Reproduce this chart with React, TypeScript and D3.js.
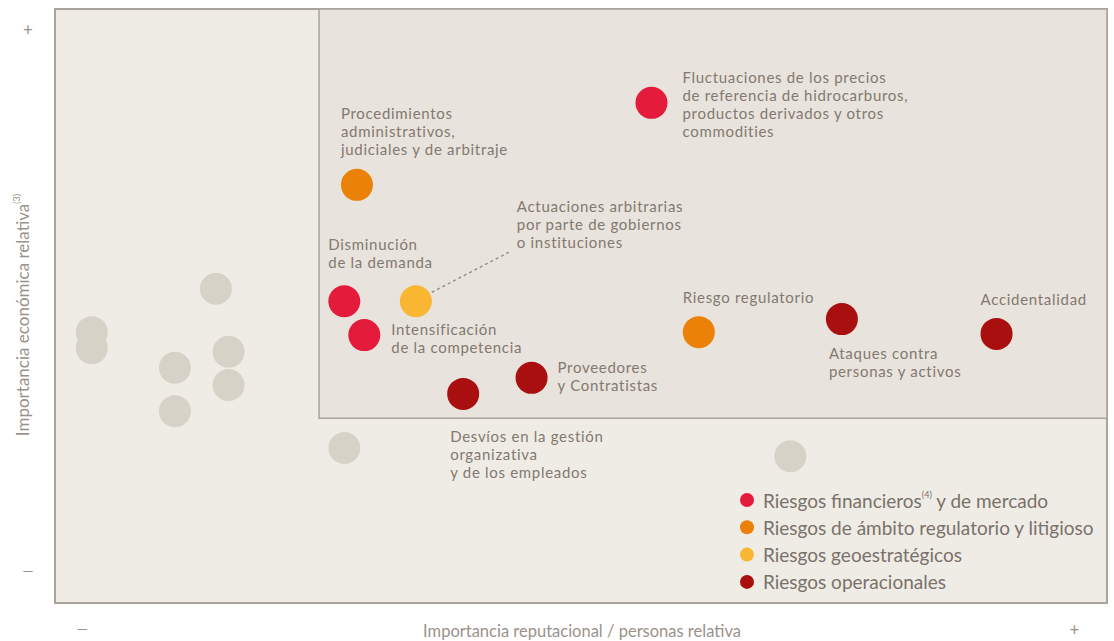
import { scaleLinear, scaleOrdinal } from 'd3'

// risk groups (legend order)
const groups = ['fin', 'reg', 'geo', 'ops']
const groupLabels = [
  ['Riesgos financieros', '(4)', ' y de mercado'],
  ['Riesgos de ámbito regulatorio y litigioso', '', ''],
  ['Riesgos geoestratégicos', '', ''],
  ['Riesgos operacionales', '', ''],
]
const groupColors = ['#E41B3A', '#EC8108', '#F8B633', '#A80F0E']

// highlighted risks
const riskNames = [
  'Fluctuaciones de los precios|de referencia de hidrocarburos,|productos derivados y otros|commodities',
  'Disminución|de la demanda',
  'Intensificación|de la competencia',
  'Procedimientos|administrativos,|judiciales y de arbitraje',
  'Riesgo regulatorio',
  'Actuaciones arbitrarias|por parte de gobiernos|o instituciones',
  'Desvíos en la gestión|organizativa|y de los empleados',
  'Proveedores|y Contratistas',
  'Ataques contra|personas y activos',
  'Accidentalidad',
]
const riskGroup = ['fin', 'fin', 'fin', 'reg', 'reg', 'geo', 'ops', 'ops', 'ops', 'ops']
const riskX = [56.7, 27.5, 29.4, 28.7, 61.2, 34.3, 38.8, 45.3, 74.8, 89.5]
const riskY = [84.2, 50.8, 45.1, 70.4, 45.6, 50.8, 35.2, 37.9, 47.8, 45.3]

// other (unlabelled) risks
const otherX = [15.3, 3.5, 3.5, 11.4, 11.4, 16.5, 16.5, 27.5, 69.9]
const otherY = [52.9, 45.6, 42.9, 39.6, 32.3, 42.3, 36.7, 26.1, 24.7]

// threshold of the highlighted area
const thresholdX = 25.1
const thresholdY = 31.1

const W = 1114
const H = 641
const R = 16

// label offsets from each point (px): dx, dy of first line, leader line
const labelLayout = [
  { dx: 31, dy: -26 },
  { dx: -16, dy: -57 },
  { dx: 27, dy: -6 },
  { dx: -16, dy: -72 },
  { dx: -16, dy: -35 },
  { dx: 101, dy: -95, leader: true },
  { dx: -13, dy: 42 },
  { dx: 26, dy: -11 },
  { dx: -13, dy: 34 },
  { dx: -16, dy: -35 },
]

const App = () => {
  const x = scaleLinear().domain([0, 100]).range([55, 1107])
  const y = scaleLinear().domain([0, 100]).range([603, 9])
  const color = scaleOrdinal<string, string>().domain(groups).range(groupColors)

  const font = 'Lato, "Open Sans", sans-serif'
  const labelFill = '#837970'
  const axisFill = '#9a928a'
  const lineH = 18

  return (
    <svg width={W} height={H} style={{ position: 'absolute', left: 0, top: 0 }} fontFamily={font}>
      <rect width={W} height={H} fill="#fff" />
      {/* outer frame */}
      <rect x={x(0)} y={y(100)} width={x(100) - x(0)} height={y(0) - y(100)}
        fill="#EFECE6" stroke="#A9A49B" strokeWidth={2} />
      {/* highlighted quadrant */}
      <rect x={x(thresholdX)} y={y(100)} width={x(100) - x(thresholdX)} height={y(thresholdY) - y(100)}
        fill="#E8E3DC" stroke="#A9A49B" strokeWidth={1.5} />

      {/* axis markers */}
      <g fill={axisFill} fontSize={17}>
        <text x={28} y={y(96.5)} textAnchor="middle" dominantBaseline="central">+</text>
        <text x={28} y={y(5.5)} textAnchor="middle" dominantBaseline="central" fontSize={14}>—</text>
        <text x={x(2.6)} y={628} textAnchor="middle" dominantBaseline="central" fontSize={14}>—</text>
        <text x={x(96.9)} y={629} textAnchor="middle" dominantBaseline="central">+</text>
      </g>
      <text x={582} y={631} textAnchor="middle" dominantBaseline="central" fontSize={16.5} fill={axisFill}>
        Importancia reputacional / personas relativa
      </text>
      <text transform="translate(22,315) rotate(-90)" textAnchor="middle" dominantBaseline="central"
        fontSize={17} fill={axisFill}>
        Importancia económica relativa<tspan fontSize={9} dy={-6}>(3)</tspan>
      </text>

      {/* other risks */}
      {otherX.map((v, i) => (
        <circle key={'o' + i} cx={x(v)} cy={y(otherY[i])} r={R} fill="#D7D2C7" />
      ))}

      {/* leader lines */}
      {riskX.map((v, i) => {
        const l = labelLayout[i]
        if (!l.leader) return null
        const cx = x(v), cy = y(riskY[i])
        return <line key={'l' + i} x1={cx + 16} y1={cy - 9} x2={cx + 93} y2={cy - 49}
          stroke="#9a928a" strokeWidth={1.5} strokeDasharray="3,3" />
      })}

      {/* highlighted risks */}
      {riskX.map((v, i) => (
        <circle key={'r' + i} cx={x(v)} cy={y(riskY[i])} r={R} fill={color(riskGroup[i])} />
      ))}
      {riskNames.map((name, i) => {
        const l = labelLayout[i]
        const cx = x(riskX[i]), cy = y(riskY[i])
        return (
          <text key={'t' + i} fontSize={15} fill={labelFill} letterSpacing={0.7}>
            {name.split('|').map((line, j) => (
              <tspan key={j} x={cx + l.dx} y={cy + l.dy + j * lineH} dominantBaseline="central">{line}</tspan>
            ))}
          </text>
        )
      })}

      {/* legend */}
      <g transform="translate(747,500)">
        {groups.map((g, i) => (
          <g key={g} transform={`translate(0,${i * 27.3})`}>
            <circle r={7} fill={color(g)} />
            <text x={16} fontSize={19} fill="#7a716a" dominantBaseline="central">
              {groupLabels[i][0]}
              {groupLabels[i][1] && <tspan fontSize={9} dy={-6}>{groupLabels[i][1]}</tspan>}
              {groupLabels[i][2] && <tspan dy={6}>{groupLabels[i][2]}</tspan>}
            </text>
          </g>
        ))}
      </g>
    </svg>
  )
}

export default App
